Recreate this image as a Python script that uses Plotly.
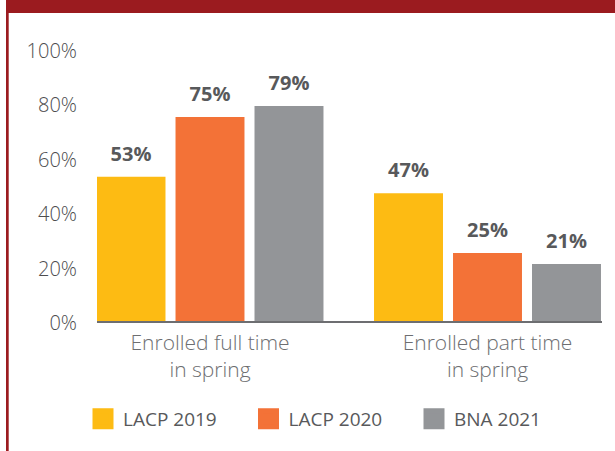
import plotly.graph_objects as go

# ---- data ----
categories = ["Enrolled full time<br>in spring", "Enrolled part time<br>in spring"]
series_names = ["LACP 2019", "LACP 2020", "BNA 2021"]
lacp_2019 = [53, 47]
lacp_2020 = [75, 25]
bna_2021 = [79, 21]
y_tick_values = [0, 20, 40, 60, 80, 100]
y_tick_labels = ["0%", "20%", "40%", "60%", "80%", "100%"]

# ---- style ----
colors = ["#FDBB13", "#F37237", "#939598"]
W, H = 615, 451
PL, PR, PT, PB = 97, 602, 49, 321  # plot area in pixels
FONT = "Open Sans"
DARK = "#4D4D4F"
RED = "#9B1B1F"

series_values = [lacp_2019, lacp_2020, bna_2021]

fig = go.Figure()
for name, vals, col in zip(series_names, series_values, colors):
    fig.add_trace(go.Bar(
        x=categories, y=vals, name=name, marker=dict(color=col, line=dict(width=0)),
        offsetgroup=name, showlegend=False, hoverinfo="skip",
    ))
for name, vals, col in zip(series_names, series_values, colors):
    fig.add_trace(go.Scatter(
        x=categories, y=vals, mode="markers+text",
        text=[f"<b>{v}%</b>" for v in vals], textposition="top center",
        textfont=dict(family=FONT, size=20, color="#58595B", weight=700),
        marker=dict(size=16, opacity=0, color=col),
        offsetgroup=name, showlegend=False, cliponaxis=False, hoverinfo="skip",
    ))
for name, col in zip(series_names, colors):
    fig.add_trace(go.Scatter(
        x=[categories[0]], y=[None], mode="markers", name=name,
        marker=dict(symbol="square", size=16, color=col, line=dict(width=5, color=col)),
        offsetgroup=name, showlegend=True, hoverinfo="skip",
    ))

# frame: red band on top and thin red line on the left (pixel -> paper)
def px_x(p):
    return (p - PL) / (PR - PL)

def px_y(p):
    return (PB - p) / (PB - PT)

fig.add_shape(type="rect", xref="paper", yref="paper",
              x0=px_x(6), x1=px_x(620), y0=px_y(13), y1=px_y(-5),
              fillcolor=RED, line=dict(width=0), layer="above")
fig.add_shape(type="rect", xref="paper", yref="paper",
              x0=px_x(6), x1=px_x(8.7), y0=px_y(460), y1=px_y(-5),
              fillcolor=RED, line=dict(width=0), layer="above")

x_lo = (PL - 210) / 277.5
x_hi = (PR - 210) / 277.5

fig.update_layout(
    width=W, height=H,
    margin=dict(l=PL, r=W - PR, t=PT, b=H - PB, autoexpand=False),
    paper_bgcolor="white", plot_bgcolor="white",
    barmode="group", scattermode="group",
    bargap=0.146, bargroupgap=0.127,
    showlegend=True,
    legend=dict(
        orientation="h", xref="container", yref="container",
        x=83 / W, y=1 - 400 / H, xanchor="left", yanchor="top",
        font=dict(family=FONT, size=19, color="#58595B"),
        entrywidth=120.5, entrywidthmode="pixels", itemwidth=30,
        bgcolor="rgba(0,0,0,0)", borderwidth=0,
    ),
    xaxis=dict(
        type="category", range=[x_lo, x_hi], showgrid=False, zeroline=False,
        showline=True, linecolor="#6D6E71", linewidth=1.5, ticks="",
        tickfont=dict(family=FONT, size=21, color="#6D6E71", weight=300),
        ticklabelstandoff=2,
    ),
    yaxis=dict(
        range=[0, 100], tickvals=y_tick_values, ticktext=y_tick_labels,
        showgrid=False, zeroline=False, showline=False, ticks="",
        tickfont=dict(family=FONT, size=20, color=DARK, weight=300),
        ticklabelstandoff=19, ticklabelshift=2,
    ),
    font=dict(family=FONT),
)

fig.write_html(
    "out.html",
    config={"displayModeBar": False},
    post_script="document.body.style.margin='0';document.body.style.overflow='hidden';",
)
